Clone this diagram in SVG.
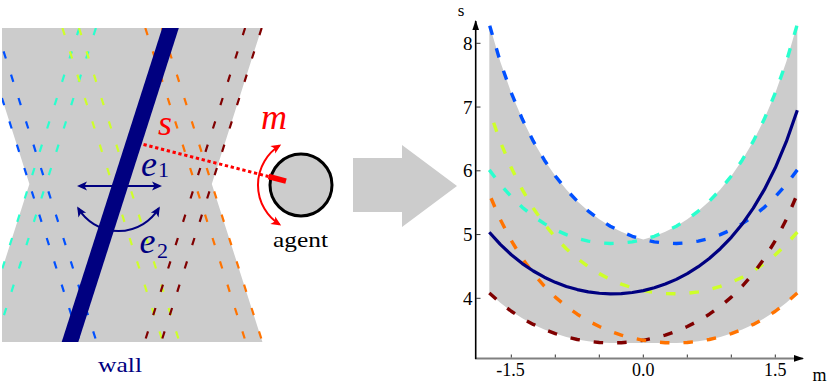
<svg xmlns="http://www.w3.org/2000/svg" width="830" height="387" viewBox="0 0 830 387">
<defs>
<style>
.gray{fill:#cccccc}
.dl{fill:none;stroke-width:2.2;stroke-dasharray:7.5 17}
.pc{fill:none;stroke-width:3.4;stroke-dasharray:9.5 14;stroke-linejoin:round}
.serif{font-family:"Liberation Serif","Times New Roman","DejaVu Serif",serif}
.math{font-family:"Liberation Serif","Times New Roman","DejaVu Serif",serif;font-style:italic}
.navy{fill:#000080}
.red{fill:#ff0000}
</style>
<clipPath id="leftClip"><rect x="2" y="28" width="261" height="314"/></clipPath>
<marker id="ahNavy" viewBox="-10 -6 14 12" markerWidth="14" markerHeight="12" refX="0" refY="0" orient="auto-start-reverse" markerUnits="userSpaceOnUse"><path d="M2,0 L-8,-4.5 L-5.5,0 L-8,4.5 Z" fill="#000080"/></marker>
<marker id="ahRed" viewBox="-10 -6 14 12" markerWidth="14" markerHeight="12" refX="0" refY="0" orient="auto-start-reverse" markerUnits="userSpaceOnUse"><path d="M2,0 L-8,-4.5 L-5.5,0 L-8,4.5 Z" fill="#ff0000"/></marker>
<marker id="axArr" viewBox="-11 -5 13 10" markerWidth="13" markerHeight="10" refX="0" refY="0" orient="auto" markerUnits="userSpaceOnUse"><path d="M1,0 L-9,-3.3 L-9,3.3 Z" fill="#000"/></marker>
<path id="cyanP" d="M489.3,169.87 L500.3,184.4 L511.3,196.79 L522.3,207.32 L533.3,216.2 L544.3,223.63 L555.3,229.73 L566.3,234.62 L577.3,238.38 L588.3,241.09 L599.3,242.77 L610.3,243.46 L621.3,243.16 L632.3,241.88 L643.3,239.59 L654.3,236.26 L665.3,231.83 L676.3,226.22 L687.3,219.34 L698.3,211.06 L709.3,201.22 L720.3,189.6 L731.3,175.96 L742.3,159.97 L753.3,141.2 L764.3,119.1 L775.3,92.95 L786.3,61.81 L797.3,24.36"/>
<path id="navyP" d="M489.3,232.2 L500.3,244.37 L511.3,254.75 L522.3,263.56 L533.3,271 L544.3,277.22 L555.3,282.33 L566.3,286.43 L577.3,289.58 L588.3,291.84 L599.3,293.25 L610.3,293.82 L621.3,293.58 L632.3,292.51 L643.3,290.59 L654.3,287.8 L665.3,284.09 L676.3,279.39 L687.3,273.63 L698.3,266.69 L709.3,258.45 L720.3,248.72 L731.3,237.3 L742.3,223.91 L753.3,208.19 L764.3,189.68 L775.3,167.79 L786.3,141.71 L797.3,110.34"/>
<path id="redP" d="M489.3,292.94 L500.3,302.82 L511.3,311.23 L522.3,318.37 L533.3,324.41 L544.3,329.45 L555.3,333.59 L566.3,336.91 L577.3,339.47 L588.3,341.3 L599.3,342.44 L610.3,342.91 L621.3,342.71 L632.3,341.84 L643.3,340.29 L654.3,338.02 L665.3,335.02 L676.3,331.21 L687.3,326.53 L698.3,320.92 L709.3,314.23 L720.3,306.34 L731.3,297.08 L742.3,286.22 L753.3,273.48 L764.3,258.47 L775.3,240.72 L786.3,219.57 L797.3,194.14"/>
</defs>

<g id="uncertainty-region">
<polygon class="gray" points="2,28 261.7,28 211.8,184 262.4,342 2,342 2,269.6 29.4,184 2,98.4"/>
</g>

<g id="sample-walls" clip-path="url(#leftClip)">
<g stroke="#0050ff" class="dl"><line x1="-20.5" y1="28" x2="80" y2="342"/><line x1="-3.9" y1="28" x2="96.6" y2="342"/></g>
<g stroke="#29ffce" class="dl"><line x1="79.3" y1="28" x2="-21.2" y2="342"/><line x1="95.9" y1="28" x2="-4.6" y2="342"/></g>
<g stroke="#ceff29" class="dl"><line x1="62.4" y1="28" x2="162.9" y2="342"/><line x1="79" y1="28" x2="179.5" y2="342"/></g>
<g stroke="#ff7300" class="dl"><line x1="145.3" y1="28" x2="245.8" y2="342"/><line x1="161.9" y1="28" x2="262.4" y2="342"/></g>
<g stroke="#800000" class="dl"><line x1="245.1" y1="28" x2="144.6" y2="342"/><line x1="261.7" y1="28" x2="161.2" y2="342"/></g>
</g>

<g id="wall">
<polygon class="navy" points="162.2,28 178.8,28 78.3,342 61.7,342"/>
<text class="serif navy" x="98" y="372" font-size="22" textLength="44" lengthAdjust="spacingAndGlyphs">wall</text>
</g>

<g id="agent">
<circle cx="301" cy="185" r="31" fill="#cccccc" stroke="#000" stroke-width="3"/>
<line x1="268.5" y1="176.5" x2="286" y2="181.2" stroke="#ff0000" stroke-width="5.5"/>
<text class="serif" x="273" y="247" font-size="22" textLength="55" lengthAdjust="spacingAndGlyphs" fill="#000">agent</text>
</g>

<g id="connectors" fill="none">
<line id="s-ray" x1="143.5" y1="144.5" x2="268.5" y2="176.5" stroke="#ff0000" stroke-width="3" stroke-dasharray="3.3 2.7"/>
<line id="e1-arrow" x1="79" y1="186" x2="160" y2="186" stroke="#000080" stroke-width="2" marker-start="url(#ahNavy)" marker-end="url(#ahNavy)"/>
<path id="e2-arrow" d="M78.2,208.2 A47,47 0 0 0 158.8,208.2" stroke="#000080" stroke-width="2" marker-start="url(#ahNavy)" marker-end="url(#ahNavy)"/>
<path id="m-arrow" d="M279.5,145.5 A47,47 0 0 0 279.5,224.5" stroke="#ff0000" stroke-width="2" marker-start="url(#ahRed)" marker-end="url(#ahRed)"/>
</g>

<g id="labels">
<text class="math red" x="165" y="135" font-size="36" text-anchor="middle">s</text>
<text class="math red" x="274" y="129" font-size="36" text-anchor="middle">m</text>
<text class="math navy" x="141" y="176" font-size="36">e</text>
<text class="serif navy" x="158" y="177" font-size="22">1</text>
<text class="math navy" x="139.5" y="253" font-size="36">e</text>
<text class="serif navy" x="157" y="258" font-size="22">2</text>
</g>

<g id="transform-arrow">
<polygon class="gray" points="353,158 402,158 402,145 457,186 402,227 402,212 353,212"/>
</g>

<g id="plot">
<path class="gray" d="M489.3,24.36 L500.3,61.81 L511.3,92.95 L522.3,119.1 L533.3,141.2 L544.3,159.97 L555.3,175.96 L566.3,189.6 L577.3,201.22 L588.3,211.06 L599.3,219.34 L610.3,226.22 L621.3,231.83 L632.3,236.26 L643.3,239.59 L654.3,236.26 L665.3,231.83 L676.3,226.22 L687.3,219.34 L698.3,211.06 L709.3,201.22 L720.3,189.6 L731.3,175.96 L742.3,159.97 L753.3,141.2 L764.3,119.1 L775.3,92.95 L786.3,61.81 L797.3,24.36 L797.3,292.94 L786.3,302.82 L775.3,311.23 L764.3,318.37 L753.3,324.41 L742.3,329.45 L731.3,333.59 L720.3,336.91 L709.3,339.47 L698.3,341.3 L687.3,342.44 L676.3,342.91 L610.3,342.91 L599.3,342.44 L588.3,341.3 L577.3,339.47 L566.3,336.91 L555.3,333.59 L544.3,329.45 L533.3,324.41 L522.3,318.37 L511.3,311.23 L500.3,302.82 L489.3,292.94 Z"/>
<use href="#cyanP" class="pc" stroke="#29ffce"/>
<use href="#cyanP" class="pc" stroke="#0050ff" transform="matrix(-1 0 0 1 1286.6 0)"/>
<use href="#navyP" class="pc" stroke="#ceff29" transform="matrix(-1 0 0 1 1286.6 0)"/>
<use href="#redP" class="pc" stroke="#800000"/>
<use href="#redP" class="pc" stroke="#ff7300" transform="matrix(-1 0 0 1 1286.6 0)"/>
<use href="#navyP" fill="none" stroke="#000080" stroke-width="3.2" stroke-linejoin="round"/>
<line x1="475" y1="358.4" x2="803" y2="358.4" stroke="#808080" stroke-width="2" marker-end="url(#axArr)"/>
<line x1="475.7" y1="359" x2="475.7" y2="21" stroke="#000" stroke-width="1.6" marker-end="url(#axArr)"/>
<g stroke="#333" stroke-width="1">
<line x1="476" y1="43.3" x2="480.5" y2="43.3"/><line x1="476" y1="107.05" x2="480.5" y2="107.05"/><line x1="476" y1="170.8" x2="480.5" y2="170.8"/><line x1="476" y1="234.55" x2="480.5" y2="234.55"/><line x1="476" y1="298.3" x2="480.5" y2="298.3"/>
<line x1="511.3" y1="357.5" x2="511.3" y2="354.5"/><line x1="555.3" y1="357.5" x2="555.3" y2="354.5"/><line x1="599.3" y1="357.5" x2="599.3" y2="354.5"/><line x1="643.3" y1="357.5" x2="643.3" y2="354.5"/><line x1="687.3" y1="357.5" x2="687.3" y2="354.5"/><line x1="731.3" y1="357.5" x2="731.3" y2="354.5"/><line x1="775.3" y1="357.5" x2="775.3" y2="354.5"/>
</g>
<g class="serif" font-size="19" fill="#000" text-anchor="end">
<text x="472.5" y="49.8">8</text><text x="472.5" y="113.5">7</text><text x="472.5" y="177.3">6</text><text x="472.5" y="241">5</text><text x="472.5" y="304.8">4</text>
</g>
<g class="serif" font-size="18" fill="#000" text-anchor="middle">
<text x="510.5" y="375.5">-1.5</text><text x="643.3" y="375.5">0.0</text><text x="775.3" y="375.5">1.5</text>
<text x="819.5" y="381">m</text>
<text x="461" y="16" font-size="17">s</text>
</g>
</g>
</svg>
